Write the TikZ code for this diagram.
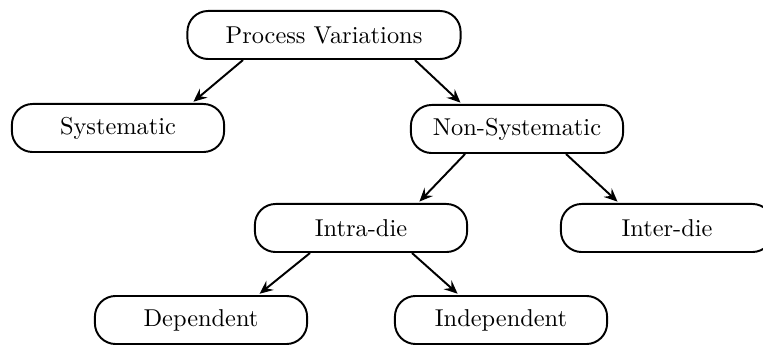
\documentclass[tikz,border=0pt]{standalone}
\usetikzlibrary{arrows.meta}
\begin{document}
\begin{tikzpicture}[x=0.41pt,y=-0.41pt,
  box/.style={draw,line width=0.8pt,rounded corners=8.5pt,minimum width=87pt,
    minimum height=19.7pt,inner sep=2pt,font=\fontsize{10pt}{12pt}\selectfont},
  link/.style={line width=0.8pt,-{Stealth[length=5.5pt,width=4.8pt,inset=2pt]},shorten >=0.8pt}]
  \useasboundingbox (0,0) rectangle (763,345);
  % tree of variation types
  \node[box,minimum width=112pt] (pv) at (324,35) {Process Variations};
  \node[box] (sys) at (118,128) {Systematic};
  \node[box] (nsys) at (517,129) {Non-Systematic};
  \node[box] (intra) at (361,228) {Intra-die};
  \node[box] (inter) at (667,228) {Inter-die};
  \node[box] (dep) at (201,320) {Dependent};
  \node[box] (indep) at (501,320) {Independent};
  % connectors
  \draw[link] ([xshift=-33.2pt]pv.south) -- ([xshift=30.3pt]sys.north);
  \draw[link] ([xshift=37.3pt]pv.south) -- ([xshift=-22.6pt]nsys.north);
  \draw[link] ([xshift=-21.3pt]nsys.south) -- ([xshift=23.4pt]intra.north);
  \draw[link] ([xshift=20.1pt]nsys.south) -- ([xshift=-19.7pt]inter.north);
  \draw[link] ([xshift=-20.9pt]intra.south) -- ([xshift=23.4pt]dep.north);
  \draw[link] ([xshift=20.9pt]intra.south) -- ([xshift=-17.2pt]indep.north);
\end{tikzpicture}
\end{document}
